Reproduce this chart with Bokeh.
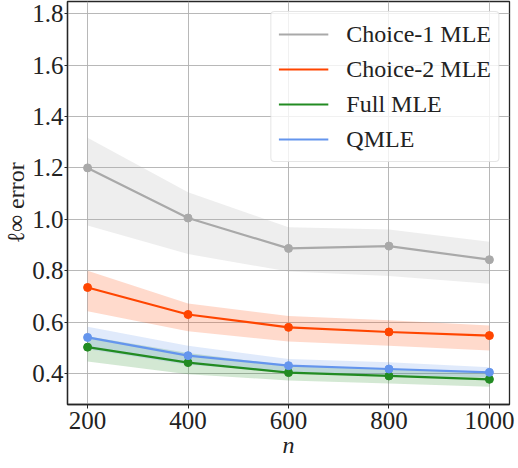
from bokeh.plotting import figure
from bokeh.models import Range1d, FixedTicker, Legend, LegendItem, NumeralTickFormatter
from bokeh.embed import file_html
from bokeh.resources import INLINE

n = [200, 400, 600, 800, 1000]
c1_mean = [1.200, 1.005, 0.887, 0.896, 0.843]
c1_lo = [0.976, 0.865, 0.797, 0.780, 0.750]
c1_hi = [1.317, 1.105, 0.969, 0.960, 0.913]
c2_mean = [0.735, 0.630, 0.580, 0.562, 0.548]
c2_lo = [0.643, 0.565, 0.525, 0.508, 0.490]
c2_hi = [0.800, 0.673, 0.624, 0.608, 0.587]
full_mean = [0.503, 0.443, 0.404, 0.391, 0.378]
full_lo = [0.447, 0.398, 0.373, 0.362, 0.349]
full_hi = [0.545, 0.480, 0.432, 0.418, 0.405]
q_mean = [0.541, 0.470, 0.431, 0.418, 0.405]
q_lo = [0.495, 0.435, 0.405, 0.395, 0.385]
q_hi = [0.582, 0.508, 0.457, 0.444, 0.425]

labels = ["Choice-1 MLE", "Choice-2 MLE", "Full MLE", "QMLE"]
colors = ["#A9A9A9", "#FF4500", "#228B22", "#6495ED"]
x_ticks = [200, 400, 600, 800, 1000]
y_ticks = [0.4, 0.6, 0.8, 1.0, 1.2, 1.4, 1.6, 1.8]

FONT = "Liberation Serif"
TXT = "#222222"

p = figure(width=510, height=460, frame_width=442, frame_height=403,
           output_backend="svg", toolbar_location=None,
           x_range=Range1d(160, 1040), y_range=Range1d(0.28, 1.847),
           min_border_left=62, min_border_right=6, min_border_top=1, min_border_bottom=56)

p.outline_line_color = "#262626"
p.outline_line_width = 1.3
p.background_fill_color = "white"
p.border_fill_color = "white"

for ax in (p.xaxis[0], p.yaxis[0]):
    ax.axis_line_color = "#262626"
    ax.axis_line_width = 1.3
    ax.major_tick_line_color = "#262626"
    ax.major_tick_out = 4
    ax.major_tick_in = 0
    ax.minor_tick_line_color = None
    ax.major_label_text_font = FONT
    ax.major_label_text_font_size = "25px"
    ax.major_label_text_color = TXT
    ax.axis_label_text_font = FONT
    ax.axis_label_text_font_size = "24px"
    ax.axis_label_text_color = TXT
    ax.axis_label_text_font_style = "normal"

p.xaxis.ticker = FixedTicker(ticks=x_ticks)
p.yaxis.ticker = FixedTicker(ticks=y_ticks)
p.yaxis.formatter = NumeralTickFormatter(format="0.0")
p.xaxis.major_label_standoff = 3
p.yaxis.major_label_standoff = 1
p.yaxis.major_tick_out = 3
p.xaxis.axis_label = "n"
p.xaxis.axis_label_text_font_style = "italic"
p.xaxis.axis_label_standoff = 0
p.yaxis.axis_label = "ℓ∞ error"
p.yaxis.axis_label_standoff = 0

p.grid.grid_line_color = "#b0b0b0"
p.grid.grid_line_width = 1
p.grid.grid_line_alpha = 0.9

series = [
    (c1_mean, c1_lo, c1_hi),
    (c2_mean, c2_lo, c2_hi),
    (full_mean, full_lo, full_hi),
    (q_mean, q_lo, q_hi),
]

items = []
for (mean, lo, hi), lab, col in zip(series, labels, colors):
    p.varea(x=n, y1=lo, y2=hi, fill_color=col, fill_alpha=0.2)
for (mean, lo, hi), lab, col in zip(series, labels, colors):
    ln = p.line(n, mean, line_color=col, line_width=2.2)
    p.scatter(n, mean, size=8, fill_color=col, line_color=col)
    items.append(LegendItem(label=lab, renderers=[ln]))

legend = Legend(items=items, location="top_right")
legend.label_text_font = FONT
legend.label_text_font_size = "24px"
legend.label_text_color = TXT
legend.glyph_width = 50
legend.glyph_height = 30
legend.label_height = 30
legend.spacing = 5
legend.padding = 7
legend.margin = 10
legend.label_standoff = 18
legend.border_line_color = "#cccccc"
legend.border_line_width = 1
legend.border_radius = 4
legend.background_fill_alpha = 0.8
p.add_layout(legend)

open("out.html", "w").write(file_html(p, INLINE))
